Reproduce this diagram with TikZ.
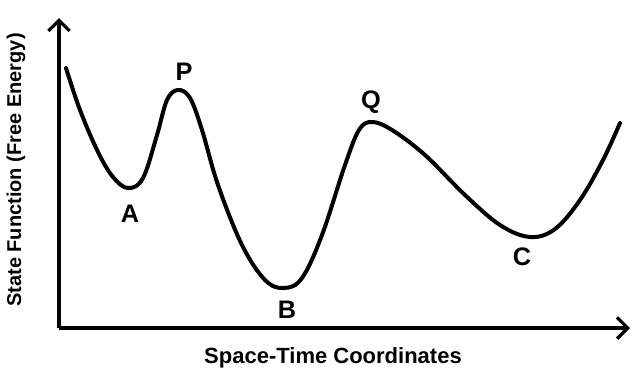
\documentclass[tikz,border=0pt]{standalone}
\usepackage{fontspec}
\setmainfont{Liberation Sans}
\usetikzlibrary{arrows.meta}
\tikzset{
  axisline/.style={line width=2.4pt, -{Straight Barb[length=8pt,width=16pt,line width=2.4pt]}},
  curveline/.style={line width=3pt, line join=round, line cap=round},
  ptlabel/.style={font=\fontsize{19}{19}\selectfont\bfseries, inner sep=0pt},
  axlabel/.style={font=\fontsize{15}{15}\selectfont\bfseries, inner sep=0pt}
}
\begin{document}
\begin{tikzpicture}[x=0.75pt,y=-0.75pt]
\useasboundingbox (0,0) rectangle (632,369);
\fill[white] (0,0) rectangle (632,369);
\coordinate (O) at (59,328);
\coordinate (Ytop) at (59,18);
\coordinate (Xend) at (630,328);
\draw[axisline] (O) -- (Ytop);
\draw[axisline] (O) -- (Xend);
\draw[curveline] plot[smooth, tension=0.6] coordinates {
 (66,68) (80,110) (98,152) (113,177) (128,188) (143,178) (157,135) (167,100) (178,90) (190,98) (202,130) (218,185) (242,245) (265,280) (284,288) (302,278) (322,235) (345,165) (359,130) (372,122) (392,130) (425,155) (465,195) (500,225) (530,237) (555,229) (580,200) (603,160) (620,123)};
\node[ptlabel] (A) at (130,214) {A};
\node[ptlabel] (P) at (184,72) {P};
\node[ptlabel] (B) at (287,310) {B};
\node[ptlabel] (Q) at (371,102) {Q};
\node[ptlabel] (C) at (522,257) {C};
\node[axlabel, font=\fontsize{16.5}{17}\selectfont\bfseries] (xl) at (333,358) {Space-Time Coordinates};
\node[axlabel, rotate=90] (yl) at (16,170) {State Function (Free Energy)};
\end{tikzpicture}
\end{document}
